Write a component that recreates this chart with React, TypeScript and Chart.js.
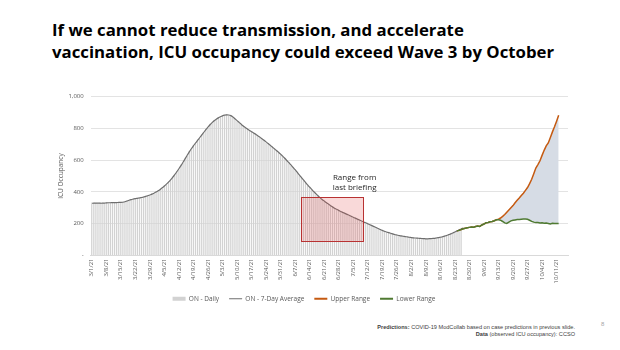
import React, { useEffect, useRef } from "react";
import { Chart, registerables } from "chart.js";

Chart.register(...registerables);

const startDate = "2021-03-01";
const dayCount = 230;

const weeklyTicks = [
  "3/1/21", "3/8/21", "3/15/21", "3/22/21", "3/29/21", "4/5/21", "4/12/21", "4/19/21",
  "4/26/21", "5/3/21", "5/10/21", "5/17/21", "5/24/21", "5/31/21", "6/7/21", "6/14/21",
  "6/21/21", "6/28/21", "7/5/21", "7/12/21", "7/19/21", "7/26/21", "8/2/21", "8/9/21",
  "8/16/21", "8/23/21", "8/30/21", "9/6/21", "9/13/21", "9/20/21", "9/27/21", "10/4/21",
  "10/11/21",
];

// ON - Daily ICU occupancy (3/1/21 onward)
const onDaily = [
  325, 333, 330, 328, 332, 327, 331,
  334, 329, 335, 331, 336, 330, 335,
  332, 338, 336, 346, 345, 356, 352,
  362, 356, 366, 360, 371, 368, 380,
  378, 390, 388, 403, 405, 420, 422,
  441, 446, 466, 472, 497, 505, 532,
  541, 572, 582, 615, 626, 658, 668,
  696, 702, 730, 736, 764, 770, 798,
  803, 829, 832, 853, 855, 870, 870,
  884, 880, 890, 881, 884, 868, 864,
  845, 841, 822, 818, 801, 799, 783,
  782, 767, 766, 750, 748, 731, 728,
  711, 708, 690, 686, 668, 664, 646,
  641, 621, 615, 594, 587, 566, 558,
  536, 527, 504, 495, 472, 463, 441,
  433, 412, 405, 385, 379, 360, 356,
  339, 336, 320, 318, 302, 301, 287,
  287, 273, 274, 261, 262, 249, 250,
  237, 238, 225, 226, 213, 214, 202,
  203, 190, 191, 178, 179, 166, 167,
  154, 156, 145, 147, 137, 139, 129,
  131, 123, 125, 118, 121, 114, 117,
  110, 113, 107, 110, 106, 109, 104,
  107, 103, 108, 105, 110, 108, 114,
  113, 120, 120, 128, 129, 138, 140,
  150, 153, 163, 165,
];

// ON - 7-Day Average (3/1/21 onward)
const onAvg = [
  329, 329, 330, 330, 329, 329, 330,
  331, 332, 332, 333, 333, 333, 334,
  334, 335, 338, 343, 348, 352, 355,
  358, 360, 362, 365, 368, 372, 376,
  381, 386, 392, 399, 407, 416, 426,
  437, 449, 462, 476, 492, 509, 527,
  546, 566, 587, 609, 631, 652, 672,
  690, 707, 724, 741, 758, 775, 792,
  808, 823, 836, 848, 858, 866, 873,
  879, 883, 885, 884, 880, 872, 861,
  849, 838, 826, 815, 805, 796, 787,
  779, 771, 763, 754, 745, 735, 725,
  715, 705, 694, 683, 672, 661, 650,
  638, 625, 612, 598, 584, 570, 555,
  540, 524, 508, 492, 476, 460, 445,
  430, 416, 402, 389, 376, 364, 353,
  343, 333, 324, 315, 306, 298, 291,
  284, 277, 271, 265, 259, 253, 247,
  241, 235, 229, 223, 217, 211, 206,
  200, 194, 188, 182, 176, 170, 164,
  158, 153, 148, 144, 140, 136, 132,
  129, 126, 123, 121, 119, 117, 115,
  113, 111, 110, 109, 108, 107, 106,
  105, 105, 106, 107, 108, 110, 112,
  115, 118, 122, 126, 131, 136, 142,
  148, 155, 161, 167, 172,
];

// Predictions start on 8/24/21
const predStartDay = 176;
const upperRange = [
  155, 158, 163, 168, 172, 175, 177, 179, 178, 182,
  185, 183, 192, 198, 206, 208, 212, 214, 219, 225,
  229, 236, 246, 258, 272, 286, 300, 314, 332, 348,
  362, 378, 392, 410, 428, 452, 480, 515, 550, 572,
  596, 630, 662, 690, 708, 742, 778, 810, 845, 882,
];
const lowerRange = [
  155, 158, 163, 168, 172, 175, 177, 179, 178, 182,
  185, 183, 192, 198, 206, 208, 212, 214, 219, 225,
  225, 222, 214, 205, 202, 210, 218, 222, 224, 226,
  227, 228, 229, 230, 228, 222, 215, 210, 207, 208,
  205, 206, 203, 204, 202, 199, 203, 202, 201, 202,
];

// Range from last briefing: [first day index, last day index] and [low, high]
const briefingDays = [101, 131];
const briefingRange = [92, 367];

function makeLabels(): string[] {
  const out: string[] = [];
  const base = new Date(startDate + "T00:00:00Z").getTime();
  for (let i = 0; i < dayCount; i++) {
    const d = new Date(base + i * 86400000);
    out.push(`${d.getUTCMonth() + 1}/${d.getUTCDate()}/${String(d.getUTCFullYear()).slice(2)}`);
  }
  return out;
}

function offsetSeries(values: number[], start: number): (number | null)[] {
  const out: (number | null)[] = [];
  for (let i = 0; i < dayCount; i++) {
    const j = i - start;
    out.push(j >= 0 && j < values.length ? values[j] : null);
  }
  return out;
}

const boxPlugin = {
  id: "briefingBox",
  afterDatasetsDraw(chart: any) {
    const { ctx, scales } = chart;
    const x = scales.x;
    const y = scales.y;
    const x0 = x.getPixelForValue(briefingDays[0]);
    const x1 = x.getPixelForValue(briefingDays[1]);
    const y0 = y.getPixelForValue(briefingRange[1]);
    const y1 = y.getPixelForValue(briefingRange[0]);
    ctx.save();
    ctx.fillStyle = "rgba(226, 80, 80, 0.22)";
    ctx.fillRect(x0, y0, x1 - x0, y1 - y0);
    ctx.strokeStyle = "#b83232";
    ctx.lineWidth = 1;
    ctx.strokeRect(Math.round(x0) + 0.5, Math.round(y0) + 0.5, Math.round(x1 - x0), Math.round(y1 - y0));
    ctx.fillStyle = "#262626";
    ctx.font = "8px 'Open Sans'";
    ctx.textAlign = "center";
    ctx.textBaseline = "middle";
    const cx = x1 - 9;
    ctx.fillText("Range from", cx, y0 - 19);
    ctx.fillText("last briefing", cx, y0 - 9);
    ctx.restore();
  },
};

export default function App() {
  const ref = useRef<HTMLCanvasElement>(null);

  useEffect(() => {
    document.body.style.margin = "0";
    const labels = makeLabels();
    const tickSet = new Set(weeklyTicks);
    const chart = new Chart(ref.current!, {
      type: "bar",
      data: {
        labels,
        datasets: [
          {
            type: "bar",
            label: "ON - Daily",
            data: offsetSeries(onDaily, 0),
            backgroundColor: "#d2d2d2",
            barPercentage: 0.6,
            categoryPercentage: 1,
            order: 4,
          },
          {
            type: "line",
            label: "ON - 7-Day Average",
            data: offsetSeries(onAvg, 0),
            borderColor: "#6e6e6e",
            borderWidth: 1.2,
            pointRadius: 0,
            tension: 0.3,
            order: 3,
          },
          {
            type: "line",
            label: "Upper Range",
            data: offsetSeries(upperRange, predStartDay),
            borderColor: "#c55a11",
            borderWidth: 1.5,
            pointRadius: 0,
            fill: { target: 3 },
            backgroundColor: "#d6dce5",
            order: 2,
          },
          {
            type: "line",
            label: "Lower Range",
            data: offsetSeries(lowerRange, predStartDay),
            borderColor: "#4f7a32",
            borderWidth: 1.5,
            pointRadius: 0,
            order: 1,
          },
        ],
      },
      options: {
        animation: false,
        responsive: false,
        maintainAspectRatio: false,
        layout: { padding: { top: 6, right: 12, left: 0, bottom: 4 } },
        plugins: {
          tooltip: { enabled: false },
          legend: {
            position: "bottom",
            labels: {
              font: { family: "'Open Sans'", size: 6.5 },
              color: "#595959",
              usePointStyle: true,
              pointStyleWidth: 13,
              boxHeight: 7,
              padding: 10,
              generateLabels(c: any) {
                const items = Chart.defaults.plugins.legend.labels.generateLabels(c);
                const widths = [4, 1.2, 2, 2];
                const colors = ["#d2d2d2", "#6e6e6e", "#c55a11", "#4f7a32"];
                items.sort((a: any, b: any) => a.datasetIndex - b.datasetIndex);
                items.forEach((it: any) => {
                  it.pointStyle = "line";
                  it.lineWidth = widths[it.datasetIndex];
                  it.strokeStyle = colors[it.datasetIndex];
                  it.fillStyle = colors[it.datasetIndex];
                });
                return items;
              },
            },
          },
        },
        scales: {
          x: {
            grid: { display: false, drawTicks: false },
            border: { color: "#d9d9d9" },
            ticks: {
              autoSkip: false,
              maxRotation: 90,
              minRotation: 90,
              padding: 3,
              color: "#595959",
              font: { family: "'Open Sans'", size: 6 },
              callback(value: any) {
                const l = labels[value as number];
                return tickSet.has(l) ? l : "";
              },
            },
            afterFit(scale: any) {
              scale.height = 30;
            },
          },
          y: {
            min: 0,
            max: 1000,
            grid: { color: "#e3e3e3", drawTicks: false },
            border: { display: false },
            ticks: {
              stepSize: 200,
              padding: 7,
              color: "#595959",
              font: { family: "'Open Sans'", size: 6 },
              callback(value: any) {
                return value === 0 ? "-" : Number(value).toLocaleString("en-US");
              },
            },
            title: {
              display: true,
              text: "ICU Occupancy",
              color: "#595959",
              font: { family: "'Open Sans'", size: 6.5 },
              padding: { top: 17, bottom: 0 },
            },
            afterFit(scale: any) {
              scale.width = 50.7;
            },
          },
        },
      },
      plugins: [boxPlugin],
    });
    return () => chart.destroy();
  }, []);

  return (
    <div style={{ position: "relative", width: 620, height: 350, background: "#ffffff", overflow: "hidden" }}>
      <div
        style={{
          position: "absolute",
          left: 52,
          top: 18.5,
          fontFamily: "'Open Sans'",
          fontWeight: 700,
          fontSize: 16.8,
          lineHeight: "22px",
          color: "#000000",
          whiteSpace: "nowrap",
        }}
      >
        If we cannot reduce transmission, and accelerate
        <br />
        vaccination, ICU occupancy could exceed Wave 3 by October
      </div>
      <canvas
        ref={ref}
        width={540}
        height={230}
        style={{ position: "absolute", left: 40, top: 86, width: 540, height: 230 }}
      />
      <div
        style={{
          position: "absolute",
          right: 45,
          top: 323.5,
          fontFamily: "'Liberation Sans'",
          fontSize: 5.6,
          lineHeight: "7px",
          color: "#404040",
          textAlign: "right",
          whiteSpace: "nowrap",
        }}
      >
        <b>Predictions:</b> COVID-19 ModCollab based on case predictions in previous slide.
        <br />
        <b>Data</b> (observed ICU occupancy): CCSO
      </div>
      <div
        style={{
          position: "absolute",
          left: 601,
          top: 321,
          fontFamily: "'Liberation Sans'",
          fontSize: 6,
          color: "#a6a6a6",
        }}
      >
        8
      </div>
    </div>
  );
}
